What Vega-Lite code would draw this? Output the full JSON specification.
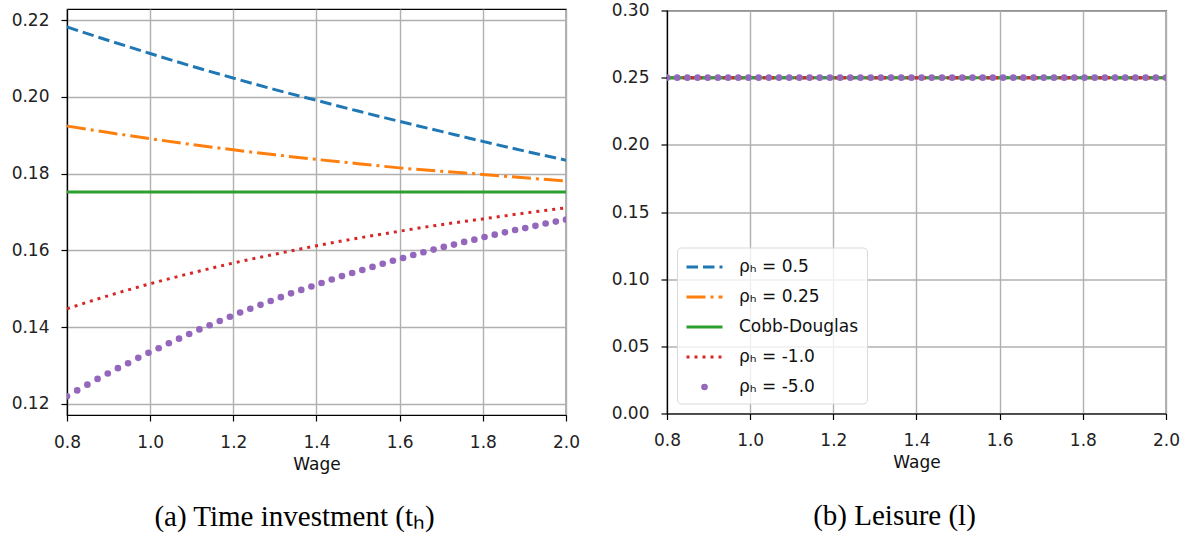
{
  "$schema": "https://vega.github.io/schema/vega-lite/v6.json",
  "background": "white",
  "padding": {"left": 10, "top": 0, "right": 0, "bottom": 0},
  "bounds": "flush",
  "spacing": 101,
  "center": true,
  "datasets": {
    "time_lines": [
      {"wage": 0.8, "s": "ρₕ = 0.5", "t": 0.2182},
      {"wage": 0.9, "s": "ρₕ = 0.5", "t": 0.2147},
      {"wage": 1.0, "s": "ρₕ = 0.5", "t": 0.2113},
      {"wage": 1.1, "s": "ρₕ = 0.5", "t": 0.2080},
      {"wage": 1.2, "s": "ρₕ = 0.5", "t": 0.2049},
      {"wage": 1.3, "s": "ρₕ = 0.5", "t": 0.2019},
      {"wage": 1.4, "s": "ρₕ = 0.5", "t": 0.1991},
      {"wage": 1.5, "s": "ρₕ = 0.5", "t": 0.1963},
      {"wage": 1.6, "s": "ρₕ = 0.5", "t": 0.1936},
      {"wage": 1.7, "s": "ρₕ = 0.5", "t": 0.1910},
      {"wage": 1.8, "s": "ρₕ = 0.5", "t": 0.1884},
      {"wage": 1.9, "s": "ρₕ = 0.5", "t": 0.1859},
      {"wage": 2.0, "s": "ρₕ = 0.5", "t": 0.1835},
      {"wage": 0.8, "s": "ρₕ = 0.25", "t": 0.1924},
      {"wage": 0.9, "s": "ρₕ = 0.25", "t": 0.1907},
      {"wage": 1.0, "s": "ρₕ = 0.25", "t": 0.1891},
      {"wage": 1.1, "s": "ρₕ = 0.25", "t": 0.1876},
      {"wage": 1.2, "s": "ρₕ = 0.25", "t": 0.1862},
      {"wage": 1.3, "s": "ρₕ = 0.25", "t": 0.1849},
      {"wage": 1.4, "s": "ρₕ = 0.25", "t": 0.1837},
      {"wage": 1.5, "s": "ρₕ = 0.25", "t": 0.1826},
      {"wage": 1.6, "s": "ρₕ = 0.25", "t": 0.1815},
      {"wage": 1.7, "s": "ρₕ = 0.25", "t": 0.1806},
      {"wage": 1.8, "s": "ρₕ = 0.25", "t": 0.1798},
      {"wage": 1.9, "s": "ρₕ = 0.25", "t": 0.1789},
      {"wage": 2.0, "s": "ρₕ = 0.25", "t": 0.1781},
      {"wage": 0.8, "s": "Cobb-Douglas", "t": 0.1752},
      {"wage": 1.4, "s": "Cobb-Douglas", "t": 0.1752},
      {"wage": 2.0, "s": "Cobb-Douglas", "t": 0.1752},
      {"wage": 0.8, "s": "ρₕ = -1.0", "t": 0.1448},
      {"wage": 0.9, "s": "ρₕ = -1.0", "t": 0.1482},
      {"wage": 1.0, "s": "ρₕ = -1.0", "t": 0.1513},
      {"wage": 1.1, "s": "ρₕ = -1.0", "t": 0.1541},
      {"wage": 1.2, "s": "ρₕ = -1.0", "t": 0.1567},
      {"wage": 1.3, "s": "ρₕ = -1.0", "t": 0.1590},
      {"wage": 1.4, "s": "ρₕ = -1.0", "t": 0.1612},
      {"wage": 1.5, "s": "ρₕ = -1.0", "t": 0.1632},
      {"wage": 1.6, "s": "ρₕ = -1.0", "t": 0.1650},
      {"wage": 1.7, "s": "ρₕ = -1.0", "t": 0.1667},
      {"wage": 1.8, "s": "ρₕ = -1.0", "t": 0.1682},
      {"wage": 1.9, "s": "ρₕ = -1.0", "t": 0.1697},
      {"wage": 2.0, "s": "ρₕ = -1.0", "t": 0.1711}
    ],
    "time_dots": [
      {"wage": 0.8, "t": 0.1220}, {"wage": 0.8245, "t": 0.1235}, {"wage": 0.849, "t": 0.1250},
      {"wage": 0.8735, "t": 0.1265}, {"wage": 0.898, "t": 0.1279}, {"wage": 0.9224, "t": 0.1293},
      {"wage": 0.9469, "t": 0.1306}, {"wage": 0.9714, "t": 0.1320}, {"wage": 0.9959, "t": 0.1333},
      {"wage": 1.0204, "t": 0.1345}, {"wage": 1.0449, "t": 0.1358}, {"wage": 1.0694, "t": 0.1370},
      {"wage": 1.0939, "t": 0.1382}, {"wage": 1.1184, "t": 0.1394}, {"wage": 1.1429, "t": 0.1405},
      {"wage": 1.1673, "t": 0.1416}, {"wage": 1.1918, "t": 0.1427}, {"wage": 1.2163, "t": 0.1438},
      {"wage": 1.2408, "t": 0.1448}, {"wage": 1.2653, "t": 0.1458}, {"wage": 1.2898, "t": 0.1468},
      {"wage": 1.3143, "t": 0.1478}, {"wage": 1.3388, "t": 0.1488}, {"wage": 1.3633, "t": 0.1497},
      {"wage": 1.3878, "t": 0.1506}, {"wage": 1.4122, "t": 0.1515}, {"wage": 1.4367, "t": 0.1524},
      {"wage": 1.4612, "t": 0.1533}, {"wage": 1.4857, "t": 0.1541}, {"wage": 1.5102, "t": 0.1549},
      {"wage": 1.5347, "t": 0.1557}, {"wage": 1.5592, "t": 0.1565}, {"wage": 1.5837, "t": 0.1573},
      {"wage": 1.6082, "t": 0.1580}, {"wage": 1.6327, "t": 0.1588}, {"wage": 1.6571, "t": 0.1595},
      {"wage": 1.6816, "t": 0.1602}, {"wage": 1.7061, "t": 0.1609}, {"wage": 1.7306, "t": 0.1615},
      {"wage": 1.7551, "t": 0.1622}, {"wage": 1.7796, "t": 0.1628}, {"wage": 1.8041, "t": 0.1635},
      {"wage": 1.8286, "t": 0.1641}, {"wage": 1.8531, "t": 0.1647}, {"wage": 1.8776, "t": 0.1653},
      {"wage": 1.902, "t": 0.1658}, {"wage": 1.9265, "t": 0.1664}, {"wage": 1.951, "t": 0.1670},
      {"wage": 1.9755, "t": 0.1675}, {"wage": 2.0, "t": 0.1680}
    ],
    "leisure_lines": [
      {"wage": 0.8, "s": "ρₕ = 0.5", "l": 0.25}, {"wage": 2.0, "s": "ρₕ = 0.5", "l": 0.25},
      {"wage": 0.8, "s": "ρₕ = 0.25", "l": 0.25}, {"wage": 2.0, "s": "ρₕ = 0.25", "l": 0.25},
      {"wage": 0.8, "s": "Cobb-Douglas", "l": 0.25}, {"wage": 2.0, "s": "Cobb-Douglas", "l": 0.25},
      {"wage": 0.8, "s": "ρₕ = -1.0", "l": 0.25}, {"wage": 2.0, "s": "ρₕ = -1.0", "l": 0.25}
    ],
    "leisure_dots": [
      {"wage": 0.8, "l": 0.25}, {"wage": 0.8245, "l": 0.25}, {"wage": 0.849, "l": 0.25},
      {"wage": 0.8735, "l": 0.25}, {"wage": 0.898, "l": 0.25}, {"wage": 0.9224, "l": 0.25},
      {"wage": 0.9469, "l": 0.25}, {"wage": 0.9714, "l": 0.25}, {"wage": 0.9959, "l": 0.25},
      {"wage": 1.0204, "l": 0.25}, {"wage": 1.0449, "l": 0.25}, {"wage": 1.0694, "l": 0.25},
      {"wage": 1.0939, "l": 0.25}, {"wage": 1.1184, "l": 0.25}, {"wage": 1.1429, "l": 0.25},
      {"wage": 1.1673, "l": 0.25}, {"wage": 1.1918, "l": 0.25}, {"wage": 1.2163, "l": 0.25},
      {"wage": 1.2408, "l": 0.25}, {"wage": 1.2653, "l": 0.25}, {"wage": 1.2898, "l": 0.25},
      {"wage": 1.3143, "l": 0.25}, {"wage": 1.3388, "l": 0.25}, {"wage": 1.3633, "l": 0.25},
      {"wage": 1.3878, "l": 0.25}, {"wage": 1.4122, "l": 0.25}, {"wage": 1.4367, "l": 0.25},
      {"wage": 1.4612, "l": 0.25}, {"wage": 1.4857, "l": 0.25}, {"wage": 1.5102, "l": 0.25},
      {"wage": 1.5347, "l": 0.25}, {"wage": 1.5592, "l": 0.25}, {"wage": 1.5837, "l": 0.25},
      {"wage": 1.6082, "l": 0.25}, {"wage": 1.6327, "l": 0.25}, {"wage": 1.6571, "l": 0.25},
      {"wage": 1.6816, "l": 0.25}, {"wage": 1.7061, "l": 0.25}, {"wage": 1.7306, "l": 0.25},
      {"wage": 1.7551, "l": 0.25}, {"wage": 1.7796, "l": 0.25}, {"wage": 1.8041, "l": 0.25},
      {"wage": 1.8286, "l": 0.25}, {"wage": 1.8531, "l": 0.25}, {"wage": 1.8776, "l": 0.25},
      {"wage": 1.902, "l": 0.25}, {"wage": 1.9265, "l": 0.25}, {"wage": 1.951, "l": 0.25},
      {"wage": 1.9755, "l": 0.25}, {"wage": 2.0, "l": 0.25}
    ]
  },
  "hconcat": [
    {
      "width": 499,
      "height": 406,
      "title": {"text": "(a) Time investment (tₕ)", "orient": "bottom", "anchor": "middle", "dx": -22, "offset": 31},
      "layer": [
        {
          "data": {"name": "time_lines"},
          "mark": {"type": "line", "strokeWidth": 3, "clip": true, "interpolate": "monotone"},
          "encoding": {
            "x": {"field": "wage", "type": "quantitative", "title": "Wage",
                  "scale": {"domain": [0.8, 2.0], "nice": false, "zero": false},
                  "axis": {"values": [0.8, 1.0, 1.2, 1.4, 1.6, 1.8, 2.0], "format": ".1f"}},
            "y": {"field": "t", "type": "quantitative", "title": null,
                  "scale": {"domain": [0.1171, 0.2229], "nice": false, "zero": false},
                  "axis": {"values": [0.12, 0.14, 0.16, 0.18, 0.2, 0.22], "format": ".2f"}},
            "color": {"field": "s", "type": "nominal", "legend": null,
                      "scale": {"domain": ["ρₕ = 0.5", "ρₕ = 0.25", "Cobb-Douglas", "ρₕ = -1.0"],
                                "range": ["#1f77b4", "#ff7f0e", "#2ca02c", "#d62728"]}},
            "strokeDash": {"field": "s", "type": "nominal", "legend": null,
                           "scale": {"domain": ["ρₕ = 0.5", "ρₕ = 0.25", "Cobb-Douglas", "ρₕ = -1.0"],
                                     "range": [[11.5, 5], [19, 5, 3, 5], [1, 0], [3, 5]]}}
          }
        },
        {
          "data": {"name": "time_dots"},
          "mark": {"type": "circle", "size": 44, "opacity": 1, "color": "#9467bd", "clip": true},
          "encoding": {
            "x": {"field": "wage", "type": "quantitative"},
            "y": {"field": "t", "type": "quantitative"}
          }
        }
      ]
    },
    {
      "width": 499,
      "height": 403,
      "title": {"text": "(b) Leisure (l)", "orient": "bottom", "anchor": "middle", "dx": -22, "offset": 31},
      "layer": [
        {
          "data": {"name": "leisure_lines"},
          "mark": {"type": "line", "strokeWidth": 3, "clip": true},
          "encoding": {
            "x": {"field": "wage", "type": "quantitative", "title": "Wage",
                  "scale": {"domain": [0.8, 2.0], "nice": false, "zero": false},
                  "axis": {"values": [0.8, 1.0, 1.2, 1.4, 1.6, 1.8, 2.0], "format": ".1f"}},
            "y": {"field": "l", "type": "quantitative", "title": null,
                  "scale": {"domain": [0, 0.3], "nice": false},
                  "axis": {"values": [0, 0.05, 0.1, 0.15, 0.2, 0.25, 0.3], "format": ".2f"}},
            "color": {"field": "s", "type": "nominal", "legend": null,
                      "scale": {"domain": ["ρₕ = 0.5", "ρₕ = 0.25", "Cobb-Douglas", "ρₕ = -1.0"],
                                "range": ["#1f77b4", "#ff7f0e", "#2ca02c", "#d62728"]}},
            "strokeDash": {"field": "s", "type": "nominal", "legend": null,
                           "scale": {"domain": ["ρₕ = 0.5", "ρₕ = 0.25", "Cobb-Douglas", "ρₕ = -1.0"],
                                     "range": [[11.5, 5], [19, 5, 3, 5], [1, 0], [3, 5]]}}
          }
        },
        {
          "data": {"name": "leisure_dots"},
          "mark": {"type": "circle", "size": 44, "opacity": 1, "color": "#9467bd", "clip": true},
          "encoding": {
            "x": {"field": "wage", "type": "quantitative"},
            "y": {"field": "l", "type": "quantitative"}
          }
        },
        {
          "data": {"name": "leisure_lines"},
          "transform": [{"filter": "false"}],
          "mark": {"type": "point", "filled": false, "opacity": 1, "strokeWidth": 3},
          "encoding": {
            "x": {"field": "wage", "type": "quantitative"},
            "y": {"field": "l", "type": "quantitative"},
            "color": {"field": "s", "type": "nominal",
                      "scale": {"domain": ["ρₕ = 0.5", "ρₕ = 0.25", "Cobb-Douglas", "ρₕ = -1.0", "ρₕ = -5.0"],
                                "range": ["#1f77b4", "#ff7f0e", "#2ca02c", "#d62728", "#9467bd"]},
                      "legend": {"title": null, "orient": "bottom-left", "offset": 10,
                                 "symbolSize": 400, "symbolStrokeWidth": 3, "symbolOpacity": 1,
                                 "labelFontSize": 17, "labelColor": "#111", "labelOffset": 31,
                                 "rowPadding": 10, "padding": 8, "fillColor": "rgba(255,255,255,0.8)",
                                 "strokeColor": "#d9d9d9", "cornerRadius": 4, "labelLimit": 300}},
            "shape": {"field": "s", "type": "nominal",
                      "scale": {"domain": ["ρₕ = 0.5", "ρₕ = 0.25", "Cobb-Douglas", "ρₕ = -1.0", "ρₕ = -5.0"],
                                "range": [
                                  "M-1,0H0.15M0.65,0H1.8M2.3,0H2.6",
                                  "M-1,0H0.9M1.4,0H1.7M2.2,0H2.6",
                                  "M-1,0H2.6",
                                  "M-1,0H-0.7M-0.2,0H0.1M0.6,0H0.9M1.4,0H1.7M2.2,0H2.5",
                                  "M0.62,0A0.18,0.18,0,1,0,0.98,0A0.18,0.18,0,1,0,0.62,0Z"
                                ]},
                      "legend": {"title": null, "orient": "bottom-left", "offset": 10,
                                 "symbolSize": 400, "symbolStrokeWidth": 3, "symbolOpacity": 1,
                                 "labelFontSize": 17, "labelColor": "#111", "labelOffset": 31,
                                 "rowPadding": 10, "padding": 8, "fillColor": "rgba(255,255,255,0.8)",
                                 "strokeColor": "#d9d9d9", "cornerRadius": 4, "labelLimit": 300}}
          }
        }
      ],
      "resolve": {
        "scale": {"color": "independent", "strokeDash": "independent", "shape": "independent"},
        "legend": {"color": "independent", "strokeDash": "independent", "shape": "independent"}
      }
    }
  ],
  "resolve": {
    "scale": {"color": "independent", "strokeDash": "independent", "shape": "independent"},
    "legend": {"color": "independent", "strokeDash": "independent", "shape": "independent"}
  },
  "config": {
    "font": "DejaVu Sans",
    "view": {"stroke": "#000", "strokeWidth": 1.2},
    "axis": {
      "labelFont": "DejaVu Sans", "labelFontSize": 17, "labelColor": "#222",
      "labelPadding": 12, "labelFlush": false, "labelOverlap": false,
      "tickSize": 6, "tickColor": "#000", "tickWidth": 1.2,
      "domainColor": "#000", "domainWidth": 1.2,
      "grid": true, "gridColor": "#b0b0b0", "gridWidth": 1.4,
      "titleFont": "DejaVu Sans", "titleFontSize": 17, "titleFontWeight": "normal",
      "titleColor": "#111", "titlePadding": 6
    },
    "axisX": {"labelPadding": 13},
    "legend": {"labelFont": "DejaVu Sans"},
    "title": {"font": "Liberation Serif", "fontSize": 29, "fontWeight": "normal", "color": "#000"}
  }
}
